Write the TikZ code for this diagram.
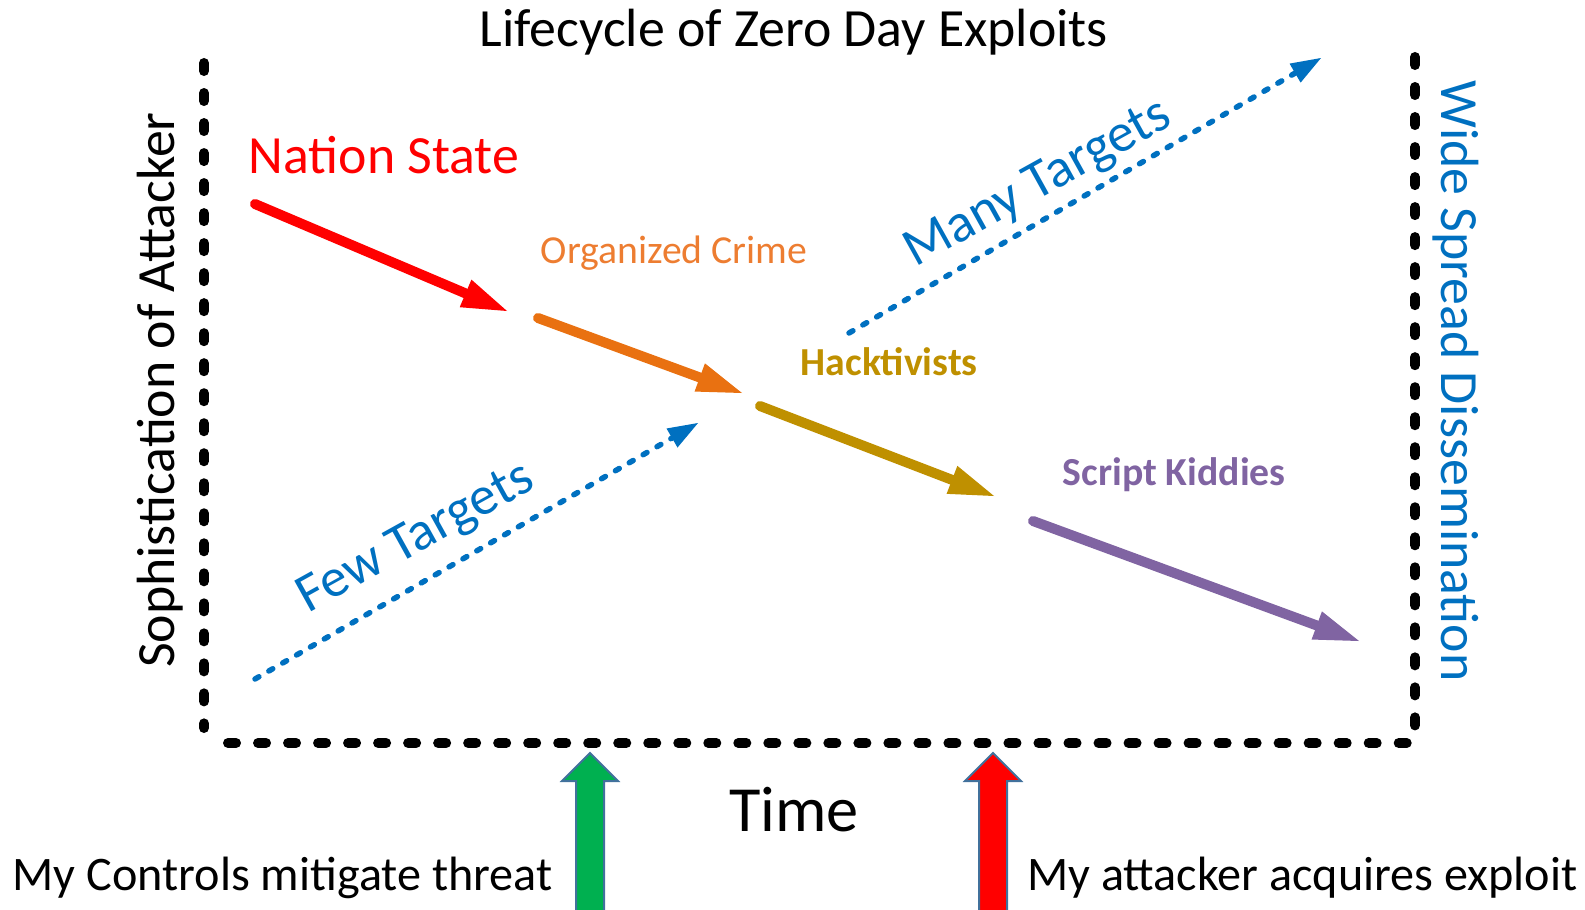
\documentclass[tikz,border=0pt]{standalone}
\usepackage{fontspec}
\setmainfont{Carlito}
\usetikzlibrary{arrows.meta}

\definecolor{nsred}{RGB}{255,0,0}
\definecolor{ocorange}{RGB}{233,113,17}
\definecolor{octext}{RGB}{237,125,49}
\definecolor{hkgold}{RGB}{191,144,0}
\definecolor{skpurple}{RGB}{128,100,162}
\definecolor{spblue}{RGB}{0,112,192}
\definecolor{ctlgreen}{RGB}{0,176,80}
\definecolor{edgeblue}{RGB}{65,113,156}

\begin{document}
\begin{tikzpicture}[x=0.01cm, y=-0.01cm, inner sep=0pt,
    frame/.style={line width=0.1cm, line cap=round, dash pattern=on 0.08cm off 0.22cm},
    actor/.style={line width=0.1cm, line cap=round,
                  -{Triangle[length=0.45cm, width=0.3cm, line width=0pt]}},
    spread/.style={spblue, line width=0.055cm, line cap=round,
                   dash pattern=on 0.045cm off 0.115cm,
                   -{Triangle[length=0.3cm, width=0.22cm, line width=0pt]}},
    blockarrow/.style={draw=edgeblue, line width=0.02cm},
    big/.style={font=\fontsize{15.3pt}{18pt}\selectfont},
    small/.style={font=\fontsize{11.3pt}{14pt}\selectfont},
    smallbold/.style={font=\fontsize{11.3pt}{14pt}\selectfont\bfseries},
    slanted/.style={font=\fontsize{15.5pt}{18pt}\selectfont, rotate=29, anchor=base west, spblue},
    bottomtext/.style={font=\fontsize{13.7pt}{16pt}\selectfont}]
  \useasboundingbox (0,0) rectangle (1585,909);
  \clip (0,0) rectangle (1585,909);

  % axes
  \coordinate (tl) at (204,63);
  \coordinate (lb) at (204,728);
  \coordinate (bl) at (214,743);
  \coordinate (br) at (1415,743);
  \coordinate (rb) at (1415,728);
  \coordinate (tr) at (1415,57);
  \draw[frame] (tl) -- (lb);
  \draw[frame] (tr) -- (rb);
  \draw[frame, dash phase=0.16cm] (bl) -- (br);

  % labels
  \node[big, anchor=base]            (title) at (794,46)  {Lifecycle of Zero Day Exploits};
  \node[big, rotate=90]              (soph)  at (160,390) {Sophistication of Attacker};
  \node[big, rotate=-90, spblue]     (wide)  at (1456,381) {Wide Spread Dissemination};
  \node[big, anchor=base west, nsred] (ns)   at (248,173) {Nation State};
  \node[small, anchor=base west, octext] (oc) at (540,263) {Organized Crime};
  \node[smallbold, anchor=base west, hkgold]   (hk) at (800,375) {Hacktivists};
  \node[smallbold, anchor=base west, skpurple] (sk) at (1062,485) {Script Kiddies};
  \node[slanted] (few)  at (308,614) {Few Targets};
  \node[slanted] (many) at (915,268) {Many Targets};
  \node[anchor=base, font=\fontsize{18.3pt}{22pt}\selectfont] (time) at (794,831) {Time};
  \node[bottomtext, anchor=base west] (ctltxt) at (12,890) {My Controls mitigate threat};
  \node[bottomtext, anchor=base east] (atktxt) at (1578,890) {My attacker acquires exploit};

  % who gets the exploit, and when
  \coordinate (ns-a) at (255,204);   \coordinate (ns-b) at (507,311);
  \coordinate (oc-a) at (538,318);   \coordinate (oc-b) at (742,393);
  \coordinate (hk-a) at (760,406);   \coordinate (hk-b) at (994,496);
  \coordinate (sk-a) at (1033,521);  \coordinate (sk-b) at (1359,641);
  \draw[actor, nsred]    (ns-a) -- (ns-b);
  \draw[actor, ocorange] (oc-a) -- (oc-b);
  \draw[actor, hkgold]   (hk-a) -- (hk-b);
  \draw[actor, skpurple] (sk-a) -- (sk-b);

  % spread of targets
  \coordinate (few-a)  at (255,679);  \coordinate (few-b)  at (698,423);
  \coordinate (many-a) at (849,333);  \coordinate (many-b) at (1321,58);
  \draw[spread] (few-a) -- (few-b);
  \draw[spread] (many-a) -- (many-b);

  % markers under the time axis
  \coordinate (ctl) at (590,753);
  \coordinate (atk) at (993,753);
  \draw[blockarrow, fill=ctlgreen] (ctl) -- ++(28,28) -- ++(-14,0) -- ++(0,150)
      -- ++(-28,0) -- ++(0,-150) -- ++(-14,0) -- cycle;
  \draw[blockarrow, fill=nsred] (atk) -- ++(28,28) -- ++(-14,0) -- ++(0,150)
      -- ++(-28,0) -- ++(0,-150) -- ++(-14,0) -- cycle;
\end{tikzpicture}
\end{document}
